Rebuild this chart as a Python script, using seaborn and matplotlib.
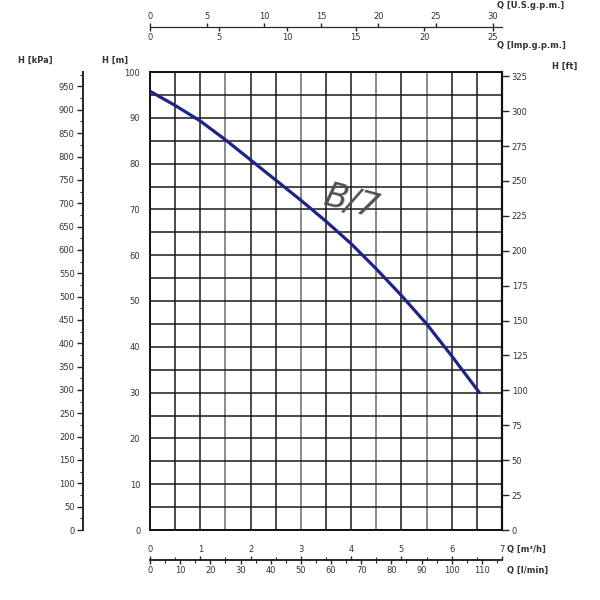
import numpy as np
import seaborn as sns
import matplotlib.pyplot as plt
from matplotlib.ticker import MultipleLocator

# pump curve B/7 (Q in m3/h, H in m)
flow_m3h = [0, 0.5, 1, 1.5, 2, 2.5, 3, 3.5, 4, 4.5, 5, 5.5, 6, 6.55]
head_m = [95.8, 92.7, 89.3, 85.2, 80.8, 76.4, 72.0, 67.4, 62.5, 57.0, 51.2, 45.0, 38.0, 30.0]
curve_name = "B/7"

# tick values of all the scales
m_ticks = list(range(0, 101, 10))
kpa_ticks = list(range(0, 951, 50))
ft_ticks = list(range(0, 326, 25))
m3h_ticks = list(range(0, 8))
lmin_ticks = list(range(0, 111, 10))
usgpm_ticks = list(range(0, 31, 5))
impgpm_ticks = list(range(0, 26, 5))

# unit conversions
KPA = 9.81          # kPa per m
FT = 3.2808         # ft per m
LMIN = 1000 / 60    # l/min per m3/h
USGPM = 4.4029      # US gpm per m3/h
IMPGPM = 3.6662     # Imp gpm per m3/h

sns.set_style("white")
plt.rcParams["font.family"] = ["DejaVu Sans"]

txt = "#333333"
fs = 6

fig = plt.figure(figsize=(6, 6), dpi=100)
ax = fig.add_axes([150 / 600, 70 / 600, 352 / 600, 458 / 600])

sns.lineplot(x=flow_m3h, y=head_m, ax=ax, color="#1c2586", linewidth=2.3,
             sort=False, estimator=None, zorder=5)

ax.set_xlim(0, 7)
ax.set_ylim(0, 100)
ax.set_xlabel("")
ax.set_ylabel("")

# grid: every 0.5 m3/h and every 5 m
ax.set_xticks(np.arange(0, 7.01, 0.5))
ax.tick_params(axis="x", length=0, labelbottom=False)
ax.set_yticks(m_ticks)
ax.yaxis.set_minor_locator(MultipleLocator(5))
ax.grid(True, which="both", color="#1a1a1a", linewidth=1.1)
for i, gl in enumerate(ax.get_xgridlines()):
    if i in (3, 6, 9, 11):
        gl.set_color("#8a8a8a")
        gl.set_linewidth(1.4)
ax.tick_params(axis="y", which="both", direction="out", length=5, width=1,
               labelsize=fs, labelcolor=txt, color="#111", pad=2)
for s in ax.spines.values():
    s.set_color("#111")
    s.set_linewidth(1.4)

# H [kPa] scale
kpa = ax.secondary_yaxis(-67 / 352, functions=(lambda h: h * KPA, lambda p: p / KPA))
kpa.set_yticks(kpa_ticks)
kpa.yaxis.set_minor_locator(MultipleLocator(25))
kpa.tick_params(which="major", length=4, width=1, labelsize=fs, labelcolor=txt, pad=2)
kpa.tick_params(which="minor", length=2.5, width=0.8)
kpa.spines["left"].set_linewidth(1.4)

# H [ft] scale
ft = ax.secondary_yaxis("right", functions=(lambda h: h * FT, lambda f: f / FT))
ft.set_yticks(ft_ticks)
ft.tick_params(length=5, width=1, labelsize=fs, labelcolor=txt, pad=2)
ft.spines["right"].set_linewidth(1.6)

# top flow scales
top_pos = 1 + 45 / 458
us = ax.secondary_xaxis(top_pos, functions=(lambda q: q * USGPM, lambda g: g / USGPM))
us.set_xticks(usgpm_ticks)
us.tick_params(length=3, width=1, labelsize=fs, labelcolor=txt, pad=1)
imp = ax.secondary_xaxis(top_pos, functions=(lambda q: q * IMPGPM, lambda g: g / IMPGPM))
imp.set_alignment("bottom")
imp.set_xticks(impgpm_ticks)
imp.tick_params(length=3, width=1, labelsize=fs, labelcolor=txt, pad=1)

# bottom flow scales
bot_pos = -30 / 458
m3h = ax.secondary_xaxis(bot_pos, functions=(lambda q: q, lambda q: q))
m3h.set_alignment("top")
m3h.set_xticks(m3h_ticks)
m3h.xaxis.set_minor_locator(MultipleLocator(0.5))
m3h.tick_params(which="major", length=3, width=1, labelsize=fs, labelcolor=txt, pad=1)
m3h.tick_params(which="minor", length=2, width=0.8)
lmin = ax.secondary_xaxis(bot_pos, functions=(lambda q: q * LMIN, lambda l: l / LMIN))
lmin.set_xticks(lmin_ticks)
lmin.xaxis.set_minor_locator(MultipleLocator(5))
lmin.tick_params(which="major", length=3, width=1, labelsize=fs, labelcolor=txt, pad=1)
lmin.tick_params(which="minor", length=2, width=0.8)
m3h.spines["top"].set_linewidth(1.2)
lmin.spines["bottom"].set_linewidth(1.2)

# scale names
def label(x, y, s, ha="left"):
    fig.text(x / 600, 1 - y / 600, s, fontsize=fs, color=txt, fontweight="bold",
             ha=ha, va="center")

label(18, 60, "H [kPa]")
label(102, 60, "H [m]")
label(552, 66, "H [ft]")
label(497, 6, "Q [U.S.g.p.m.]")
label(497, 45, "Q [Imp.g.p.m.]")
label(507, 549, "Q [m³/h]")
label(507, 570, "Q [l/min]")

ax.text(4.0, 71.5, curve_name, rotation=-15, fontsize=24, style="italic",
        color="#505050", ha="center", va="center", zorder=6)

fig.savefig("out.png", dpi=100, facecolor="white")
